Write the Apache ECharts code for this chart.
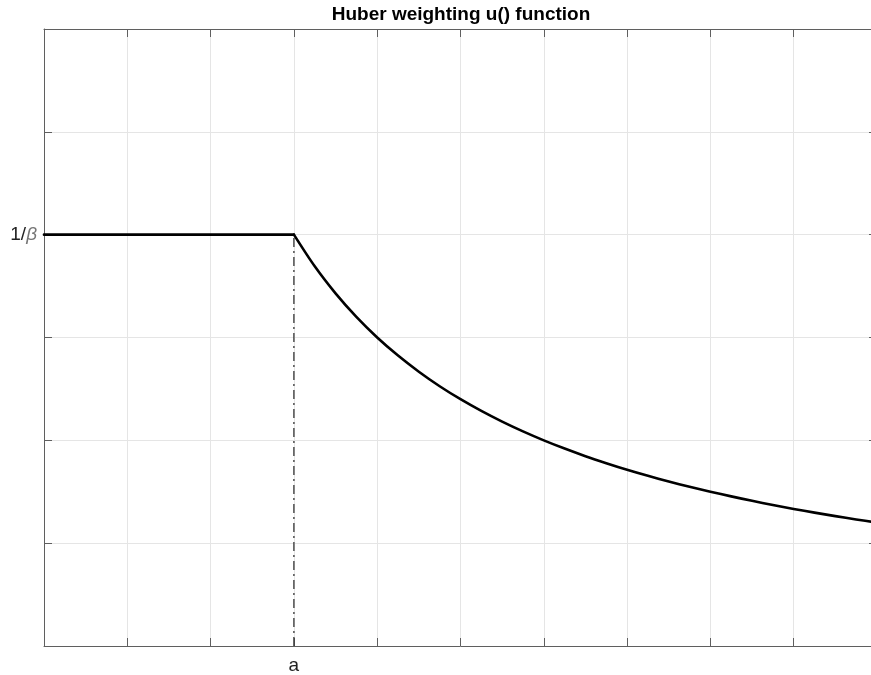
<!DOCTYPE html>
<html>
<head>
<meta charset="utf-8">
<script src="https://cdn.jsdelivr.net/npm/echarts@6/dist/echarts.min.js"></script>
<style>
html,body{margin:0;padding:0;background:#fff;overflow:hidden;width:871px;height:675px;}
#chart{width:880px;height:675px;}
</style>
</head>
<body>
<div id="chart"></div>
<script>
// Data
var xValues = [0, 2.9, 3.0, 3.25, 3.5, 3.75, 4.0, 4.25, 4.5, 4.75, 5.0, 5.25, 5.5, 5.75, 6.0, 6.25, 6.5, 6.75, 7.0, 7.25, 7.5, 7.75, 8.0, 8.25, 8.5, 8.75, 9.0, 9.25, 9.5, 9.75, 10.0];
var uValues = [4, 4, 4, 3.692, 3.429, 3.2, 3.0, 2.824, 2.667, 2.526, 2.4, 2.286, 2.182, 2.087, 2.0, 1.92, 1.846, 1.778, 1.714, 1.655, 1.6, 1.548, 1.5, 1.455, 1.412, 1.371, 1.333, 1.297, 1.263, 1.231, 1.2];
var aValue = 3;
var betaInv = 4;
var xTickLabels = {3: 'a'};
var yTickLabels = {4: '{n|1/}{b|β}'};
var titleText = 'Huber weighting u() function';

var pts = xValues.map(function (x, i) { return [x, uValues[i]]; });
var flatPart = pts.filter(function (p) { return p[0] <= aValue; });
var tailPart = pts.filter(function (p) { return p[0] >= aValue; });
var vline = [[aValue, 0], [aValue, betaInv]];

var axisColor = '#5f5f5f';
var gridColor = '#e5e5e5';
var font = 'Liberation Sans, Arial, Helvetica, sans-serif';

var chart = echarts.init(document.getElementById('chart'));
var lineStyleMain = { color: '#000', width: 2.6, join: 'round', cap: 'round' };
chart.setOption({
  animation: false,
  backgroundColor: '#fff',
  title: {
    text: titleText,
    left: 461, textAlign: 'center',
    top: 5, padding: 0,
    textStyle: { fontSize: 19, fontWeight: 'bold', color: '#000', fontFamily: font }
  },
  grid: { left: 44, right: 2, top: 29, bottom: 29, containLabel: false },
  xAxis: [{
    type: 'value', min: 0, max: 10, interval: 1,
    axisLine: { show: true, onZero: false, lineStyle: { color: axisColor, width: 1 } },
    axisTick: { show: true, inside: true, length: 8, lineStyle: { color: axisColor } },
    axisLabel: {
      margin: 10, fontSize: 19, color: '#222', fontFamily: font,
      formatter: function (v) { return xTickLabels[v] || ''; }
    },
    splitLine: { show: true, lineStyle: { color: gridColor, width: 1 } }
  }, {
    type: 'value', position: 'top', min: 0, max: 10, interval: 1,
    axisLine: { show: true, onZero: false, lineStyle: { color: axisColor, width: 1 } },
    axisTick: { show: true, inside: true, length: 8, lineStyle: { color: axisColor } },
    axisLabel: { show: false },
    splitLine: { show: false }
  }],
  yAxis: [{
    type: 'value', min: 0, max: 6, interval: 1,
    axisLine: { show: true, onZero: false, lineStyle: { color: axisColor, width: 1 } },
    axisTick: { show: true, inside: true, length: 8, lineStyle: { color: axisColor } },
    axisLabel: {
      margin: 7, fontFamily: font,
      formatter: function (v) { return yTickLabels[v] || ''; },
      rich: {
        n: { fontSize: 19, color: '#222', fontFamily: font },
        b: { fontSize: 19, color: '#777', fontStyle: 'italic', fontFamily: font }
      }
    },
    splitLine: { show: true, lineStyle: { color: gridColor, width: 1 } }
  }, {
    type: 'value', position: 'right', min: 0, max: 6, interval: 1,
    axisLine: { show: true, onZero: false, lineStyle: { color: axisColor, width: 1 } },
    axisTick: { show: true, inside: true, length: 8, lineStyle: { color: axisColor } },
    axisLabel: { show: false },
    splitLine: { show: false }
  }],
  series: [{
    type: 'line',
    data: vline,
    showSymbol: false, symbol: 'none',
    lineStyle: { color: '#333', width: 1.3, type: [9, 4, 2, 4] },
    z: 3
  }, {
    type: 'line',
    data: flatPart,
    showSymbol: false, symbol: 'none',
    lineStyle: lineStyleMain,
    z: 4
  }, {
    type: 'line',
    data: tailPart,
    showSymbol: false, symbol: 'none',
    smooth: 0.3,
    lineStyle: lineStyleMain,
    z: 4
  }]
});
</script>
</body>
</html>
